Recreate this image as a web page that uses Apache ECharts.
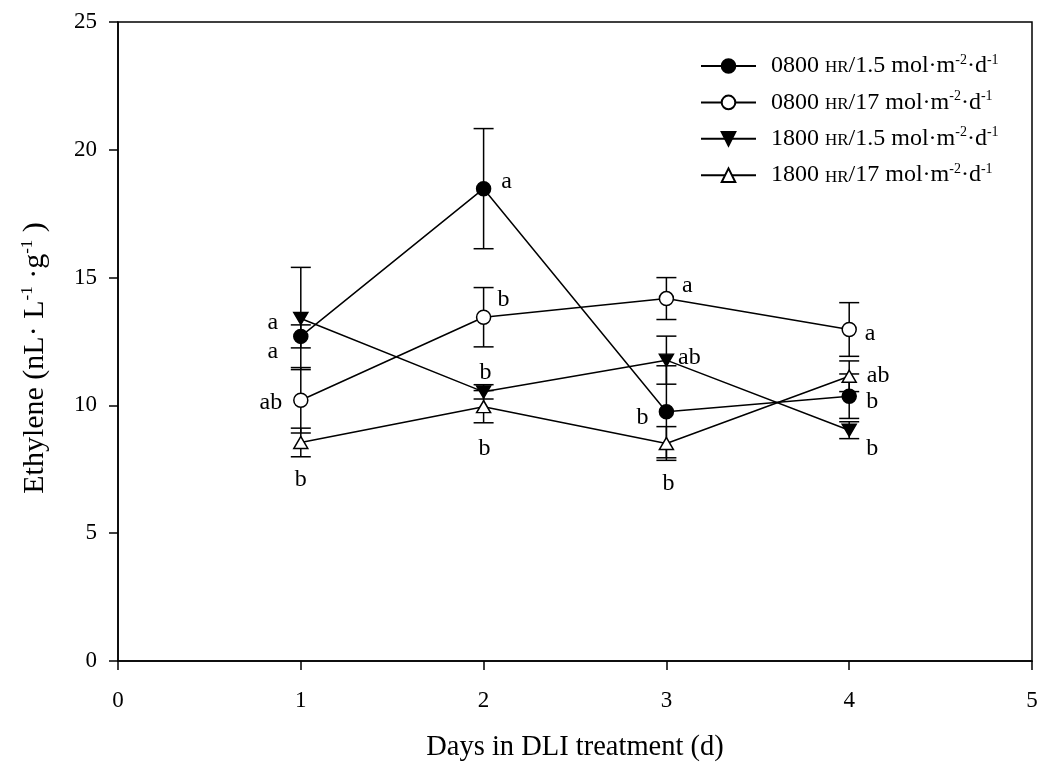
<!DOCTYPE html>
<html><head><meta charset="utf-8">
<script src="https://cdn.jsdelivr.net/npm/echarts@6/dist/echarts.min.js"></script>
<style>html,body{margin:0;padding:0;background:#fff}#c{width:1042px;height:770px}</style>
</head><body><div id="c"></div>
<script>
// ---- data ----
const days = [1, 2, 3, 4];
const xTicks = [0, 1, 2, 3, 4, 5];
const yTicks = [0, 5, 10, 15, 20, 25];
const hours = ['0800', '0800', '1800', '1800'];
const dlis = ['1.5', '17', '1.5', '17'];
const mean0800_15 = [12.7, 18.48, 9.75, 10.36];
const err0800_15 = [0.45, 2.35, 1.8, 0.87];
const mean0800_17 = [10.2, 13.45, 14.18, 12.97];
const err0800_17 = [1.28, 1.16, 0.82, 1.05];
const mean1800_15 = [13.4, 10.53, 11.77, 9.03];
const err1800_15 = [2.0, 0.28, 0.94, 0.33];
const mean1800_17 = [8.55, 9.95, 8.51, 11.14];
const err1800_17 = [0.56, 0.63, 0.66, 0.6];
const letters0800_15 = ['a', 'a', 'b', 'b'];
const letters0800_17 = ['ab', 'b', 'a', 'a'];
const letters1800_15 = ['a', 'b', 'ab', 'b'];
const letters1800_17 = ['b', 'b', 'b', 'ab'];

// ---- layout (letter offsets in px relative to the point) ----
const off0800_15 = [[-28, 15], [23, -7], [-24, 6], [23, 6]];
const off0800_17 = [[-30, 2], [20, -18], [21, -13], [21, 4]];
const off1800_15 = [[-28, 4], [2, -19], [23, -2], [23, 19]];
const off1800_17 = [[0, 37], [1, 42], [2, 40], [29, -1]];

const FONT = '"Liberation Serif", "Times New Roman", serif';
const names = hours.map((h, i) => h + ' HR/' + dlis[i] + ' mol·m-2·d-1');
const LW = 1.5;

const groups = [
  { means: mean0800_15, errs: err0800_15, letters: letters0800_15, offs: off0800_15, symbol: 'circle', size: 14, rot: 0, fill: '#000' },
  { means: mean0800_17, errs: err0800_17, letters: letters0800_17, offs: off0800_17, symbol: 'circle', size: 14, rot: 0, fill: '#fff' },
  { means: mean1800_15, errs: err1800_15, letters: letters1800_15, offs: off1800_15, symbol: 'triangle', size: [14, 12], rot: 180, fill: '#000' },
  { means: mean1800_17, errs: err1800_17, letters: letters1800_17, offs: off1800_17, symbol: 'triangle', size: [14, 12], rot: 0, fill: '#fff' }
];

const series = [];
groups.forEach((g, gi) => {
  series.push({
    type: 'custom', silent: true, z: 2,
    data: days.map((d, i) => [d, g.means[i], g.errs[i]]),
    renderItem: (params, api) => {
      const x = api.value(0), y = api.value(1), e = api.value(2);
      const t = api.coord([x, y + e]), b = api.coord([x, y - e]);
      const hw = 10, st = { stroke: '#000', lineWidth: LW };
      return { type: 'group', children: [
        { type: 'line', shape: { x1: t[0], y1: t[1], x2: b[0], y2: b[1] }, style: st },
        { type: 'line', shape: { x1: t[0] - hw, y1: t[1], x2: t[0] + hw, y2: t[1] }, style: st },
        { type: 'line', shape: { x1: b[0] - hw, y1: b[1], x2: b[0] + hw, y2: b[1] }, style: st }
      ] };
    }
  });
  series.push({
    type: 'line', name: names[gi], z: 3,
    data: days.map((d, i) => [d, g.means[i]]),
    symbol: g.symbol, symbolSize: g.size, symbolRotate: g.rot, showAllSymbol: true,
    itemStyle: { color: g.fill, borderColor: '#000', borderWidth: LW, opacity: 1 },
    lineStyle: { color: '#000', width: LW },
    emphasis: { disabled: true }
  });
  series.push({
    type: 'custom', silent: true, z: 4,
    data: days.map((d, i) => [d, g.means[i]]),
    renderItem: (params, api) => {
      const p = api.coord([api.value(0), api.value(1)]);
      const o = g.offs[params.dataIndex];
      return { type: 'text', x: p[0] + o[0], y: p[1] + o[1],
        style: { text: g.letters[params.dataIndex], fill: '#000', fontSize: 24, fontFamily: FONT, align: 'center', verticalAlign: 'middle' } };
    }
  });
});

const chart = echarts.init(document.getElementById('c'), null, { renderer: 'canvas' });
chart.setOption({
  animation: false,
  backgroundColor: '#fff',
  grid: { left: 118, right: 10, top: 22, bottom: 109, show: true, borderColor: '#000', borderWidth: LW, backgroundColor: 'transparent' },
  legend: {
    data: names, orient: 'vertical', left: 700, top: 53, padding: 0,
    itemWidth: 55, itemHeight: 17, itemGap: 11.4, selectedMode: false,
    formatter: name => {
      const i = names.indexOf(name);
      return '{t|' + hours[i] + ' }{hr|HR}{t|/' + dlis[i] + ' mol·m}{sup|-2}{t|·d}{sup|-1}';
    },
    textStyle: {
      padding: [0, 0, 0, 10],
      rich: {
        t: { fontSize: 24, fontFamily: FONT, color: '#000', lineHeight: 26 },
        hr: { fontSize: 17, fontFamily: FONT, color: '#000', padding: [4, 0, 0, 0] },
        sup: { fontSize: 14, fontFamily: FONT, color: '#000', verticalAlign: 'top' }
      }
    }
  },
  xAxis: {
    type: 'value', min: xTicks[0], max: xTicks[xTicks.length - 1], interval: 1,
    splitLine: { show: false },
    axisLine: { onZero: false, lineStyle: { color: '#000', width: LW } },
    axisTick: { length: 9, lineStyle: { color: '#000', width: LW } },
    axisLabel: { fontSize: 23, fontFamily: FONT, color: '#000', margin: 28 },
    name: 'Days in DLI treatment (d)', nameLocation: 'middle', nameGap: 72,
    nameTextStyle: { fontSize: 28.5, fontFamily: FONT, color: '#000' }
  },
  yAxis: {
    type: 'value', min: yTicks[0], max: yTicks[yTicks.length - 1], interval: 5,
    splitLine: { show: false },
    axisLine: { onZero: false, lineStyle: { color: '#000', width: LW } },
    axisTick: { length: 9, lineStyle: { color: '#000', width: LW } },
    axisLabel: { fontSize: 23, fontFamily: FONT, color: '#000', margin: 21 },
    name: '{t|Ethylene (nL· L}{sup|-1}{t| ·g}{sup|-1}{t| )}', nameLocation: 'middle', nameGap: 67,
    nameTextStyle: {
      padding: [0, 33, 0, 0],
      rich: {
        t: { fontSize: 30, fontFamily: FONT, color: '#000', lineHeight: 32 },
        sup: { fontSize: 17, fontFamily: FONT, color: '#000', verticalAlign: 'top' }
      }
    }
  },
  series: series
});
</script>
</body></html>
